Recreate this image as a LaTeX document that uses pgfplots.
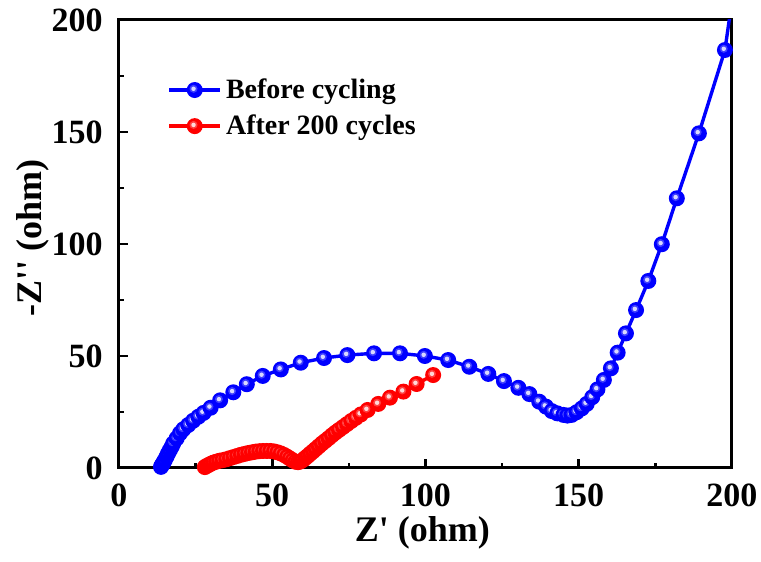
\documentclass[border=0pt]{standalone}
\usepackage{fontspec}
\setmainfont{Liberation Serif}
\usepackage{pgfplots}
\pgfplotsset{compat=1.18}

% flat ball with a small highlight, like the Origin marks
\pgfdeclareplotmark{shiny}{%
  \pgfpathcircle{\pgfpointorigin}{\pgfplotmarksize}%
  \pgfusepathqfill
  \begin{pgfscope}%
  \pgfsetfillcolor{white}%
  \pgfsetfillopacity{0.25}%
  \pgfpathcircle{\pgfpoint{-0.15\pgfplotmarksize}{0.15\pgfplotmarksize}}{0.5\pgfplotmarksize}%
  \pgfusepathqfill
  \pgfsetfillopacity{0.8}%
  \pgfpathcircle{\pgfpoint{-0.15\pgfplotmarksize}{0.15\pgfplotmarksize}}{0.28\pgfplotmarksize}%
  \pgfusepathqfill
  \end{pgfscope}%
}

\begin{document}
\begin{tikzpicture}
\begin{axis}[
    scale only axis,
    width=306.5pt, height=224pt,
    xmin=0, xmax=200, ymin=0, ymax=200,
    xtick={0,50,...,200}, ytick={0,50,...,200},
    minor tick num=1,
    xtick pos=bottom, ytick pos=left,
    tick align=inside,
    major tick length=4.5pt, minor tick length=2.5pt,
    axis line style={line width=1.5pt},
    every tick/.style={line width=1.3pt, black},
    /pgf/number format/assume math mode=true,
    tick label style={font=\fontsize{17}{17}\selectfont\bfseries, inner sep=0pt},
    xticklabel style={yshift=-7.5pt},
    yticklabel style={xshift=-8pt},
    xlabel={Z\textquotesingle{} (ohm)}, ylabel={-Z\textquotesingle\textquotesingle{} (ohm)},
    label style={font=\fontsize{18}{18}\selectfont\bfseries},
    xlabel style={at={(axis description cs:0.495,-0.165)}, anchor=base},
    ylabel style={at={(axis description cs:-0.103,0.513)}, anchor=south},
    legend cell align=left,
    legend style={at={(0.079,0.878)}, anchor=north west, draw=none, fill=none,
        inner sep=0pt, outer sep=0pt, row sep=2.7pt,
        nodes={inner sep=2pt},
        font=\fontsize{14}{14}\selectfont\bfseries},
    legend image code/.code={\draw[mark repeat=2, mark phase=2, #1]
        plot coordinates {(0cm,0cm) (0.45cm,0cm) (0.9cm,0cm)};},
]
% Before cycling
\addplot[blue, line width=1.7pt, mark=shiny, mark size=4pt] coordinates {
(13.7,0.5)(13.9,1.1)(14.2,1.7)(14.5,2.4)(14.9,3.4)(15.5,5.0)(16.0,6.5)(16.6,8.0)
(17.2,9.5)(17.7,11.0)(18.8,13.2)(19.9,15.5)(21.0,17.3)(22.6,19.2)(24.2,21.1)(25.9,22.9)
(27.6,24.6)(29.9,26.9)(33.0,30.2)(37.3,33.8)(41.7,37.4)(46.9,41.1)(52.8,44.0)(59.3,47.0)
(66.9,49.1)(74.5,50.4)(83.2,51.2)(91.7,51.2)(99.8,50.0)(107.4,48.2)(114.3,45.2)(120.5,42.0)
(125.6,38.8)(130.3,35.8)(133.9,33.0)(137.1,29.6)(139.3,27.4)(141.2,25.4)(143.0,24.4)(145.0,23.7)
(146.3,23.4)(147.7,23.7)(149.3,24.9)(151.0,26.6)(152.6,28.6)(154.4,31.6)(156.1,35.1)(158.2,39.3)
(160.5,44.5)(162.7,51.5)(165.4,60.1)(168.7,70.5)(172.7,83.5)(177.1,99.9)(182.0,120.4)(189.2,149.4)
(197.7,186.6)(201.5,223)
};
\addlegendentry{Before cycling}
% After 200 cycles
\addplot[red, line width=1.7pt, mark=shiny, mark size=4pt] coordinates {
(28.0,0.4)(28.6,0.9)(29.3,1.4)(30.0,1.9)(30.8,2.4)(31.7,2.8)(32.7,3.2)(33.8,3.5)
(35.0,3.9)(36.2,4.4)(37.4,4.9)(38.6,5.4)(39.8,5.9)(41.0,6.3)(42.2,6.7)(43.4,7.0)
(44.6,7.3)(45.8,7.5)(47.0,7.6)(48.2,7.6)(49.4,7.6)(50.6,7.4)(51.7,7.0)(52.8,6.5)
(53.9,5.8)(54.9,5.0)(55.8,4.2)(56.7,3.4)(57.6,2.8)(58.4,2.6)(59.2,2.9)(60.0,3.6)
(60.8,4.5)(61.6,5.4)(62.4,6.4)(63.3,7.4)(64.2,8.5)(65.2,9.7)(66.2,10.9)(67.3,12.1)
(68.4,13.3)(69.5,14.6)(70.6,15.8)(71.8,17.0)(73.1,18.3)(74.4,19.6)(75.8,21.0)(77.3,22.4)
(78.9,23.9)(81.1,25.9)(84.6,28.6)(88.4,31.4)(92.8,34.1)(97.1,37.5)(102.5,41.5)
};
\addlegendentry{After 200 cycles}
\end{axis}
\pgfresetboundingbox
\path ([shift={(-59.5pt,-47pt)}]current axis.south west) rectangle ([shift={(14.5pt,10pt)}]current axis.north east);
\end{tikzpicture}
\end{document}
